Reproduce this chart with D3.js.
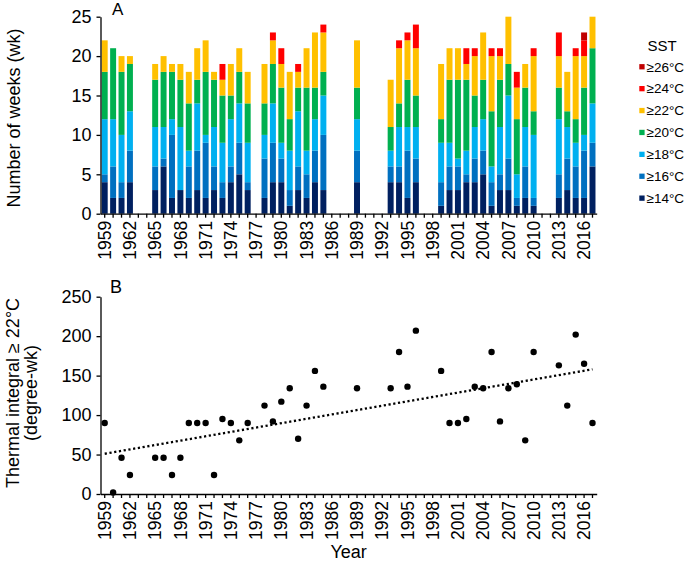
<!DOCTYPE html>
<html>
<head>
<meta charset="utf-8">
<script src="https://cdn.jsdelivr.net/npm/d3@7"></script>
<style>
  body { margin: 0; background: #fff; }
  text { font-family: "Liberation Sans", Arial, Helvetica, sans-serif; }
</style>
</head>
<body>
<svg id="chart" width="685" height="563"></svg>
<script>
// years that have data (gaps = no survey)
var dataYears = [1959,1960,1961,1962, 1965,1966,1967,1968,1969,1970,1971,1972,1973,1974,1975,1976,
  1978,1979,1980,1981,1982,1983,1984,1985, 1989, 1993,1994,1995,1996,
  1999,2000,2001,2002,2003,2004,2005,2006,2007,2008,2009,2010, 2013,2014,2015,2016,2017];

// weeks in each SST band (stacked, bottom to top)
var w14 = [4,2,2,4, 3,6,2,3,2,3,2,3,2,4,5,3, 2,4,4,1,3,2,4,3, 4, 4,4,2,4, 1,3,3,4,4,5,1,3,3,1,2,1, 2,3,2,2,6];
var w16 = [1,4,2,4, 3,1,8,0,4,5,7,3,2,2,4,1, 5,5,3,2,3,3,4,7, 4, 2,2,6,3, 3,3,3,1,3,3,3,2,4,1,4,1, 3,4,4,6,3];
var w18 = [7,6,6,5, 5,4,2,8,2,6,1,5,5,6,5,5, 3,5,2,5,7,3,4,5, 4, 2,5,3,4, 5,3,1,3,4,4,2,6,8,3,5,8, 7,4,3,2,5];
var w20 = [6,9,8,6, 6,7,6,6,6,3,8,6,6,3,4,5, 4,5,7,4,3,8,4,3, 4, 3,3,6,4, 3,8,10,9,4,5,7,6,4,7,5,3, 4,2,3,6,7];
var w22 = [4,0,2,1, 2,2,1,2,4,4,4,1,2,4,3,4, 5,3,3,6,2,5,7,5, 6, 6,7,5,6, 7,4,4,2,5,6,7,3,6,4,3,7, 4,5,8,4,4];
var w24 = [0,0,0,0, 0,0,0,0,0,0,0,0,2,0,0,0, 0,1,2,0,1,0,0,1, 0, 0,1,1,3, 0,0,0,2,1,0,1,1,0,2,0,1, 3,0,1,2,0];
var w26 = [0,0,0,0, 0,0,0,0,0,0,0,0,0,0,0,0, 0,0,0,0,0,0,0,0, 0, 0,0,0,0, 0,0,0,0,0,0,0,0,0,0,0,0, 0,0,0,1,0];

// panel B: thermal integral >= 22C (degree-wk)
var thermal = [90,2,46,24, 46,46,24,46,90,90,90,24,95,90,68,90, 112,92,117,134,70,112,156,136, 134,
  134,180,136,207, 156,90,90,95,136,134,180,92,134,139,68,180, 163,112,202,165,90];
var trendEnds = [51, 158]; // dotted trend line at 1959 and 2017

var seriesKeys = ["14", "16", "18", "20", "22", "24", "26"];
var seriesVals = [w14, w16, w18, w20, w22, w24, w26];
var seriesNames = ["≥14°C", "≥16°C", "≥18°C", "≥20°C", "≥22°C", "≥24°C", "≥26°C"];
var colors = ["#002060", "#0070C0", "#00B0F0", "#00B050", "#FFC000", "#FF0000", "#C00000"];
var weekTicks = [0, 5, 10, 15, 20, 25];
var thermalTicks = [0, 50, 100, 150, 200, 250];

var svg = d3.select("#chart");
var allYears = d3.range(1959, 2018);

var x = d3.scaleBand().domain(allYears).range([100.5, 596.7]).paddingInner(0.29).paddingOuter(0.145);
var yA = d3.scaleLinear().domain([0, 25]).range([213.7, 16.7]);
var yB = d3.scaleLinear().domain([0, 250]).range([494, 296.7]);

// table for the stack
var rows = dataYears.map(function (yr, i) {
	var r = { year: yr };
	seriesKeys.forEach(function (k, j) { r[k] = seriesVals[j][i]; });
	return r;
});
var stacked = d3.stack().keys(seriesKeys)(rows);

// ---------- panel A ----------
var gA = svg.append("g");
gA.selectAll("g.layer").data(stacked).enter().append("g")
	.attr("class", "layer")
	.attr("fill", function (d, i) { return colors[i]; })
	.selectAll("rect").data(function (d) { return d; }).enter().append("rect")
	.filter(function (d) { return d[1] > d[0]; })
	.attr("x", function (d) { return x(d.data.year); })
	.attr("width", x.bandwidth())
	.attr("y", function (d) { return yA(d[1]); })
	.attr("height", function (d) { return yA(d[0]) - yA(d[1]); });

function styleAxis(g, size) {
	g.selectAll("path, line").attr("stroke", "#000").attr("stroke-width", 1.3);
	g.selectAll("text").attr("font-size", size).attr("fill", "#000")
		.style("font-family", "'Liberation Sans', Arial, sans-serif");
}

function yearAxis(g) {
	g.call(d3.axisBottom(x).tickSize(4).tickSizeOuter(0)
		.tickFormat(function (d) { return (d - 1959) % 3 === 0 ? d : ""; }));
	g.selectAll("text")
		.attr("transform", "rotate(-90)")
		.attr("text-anchor", "end")
		.attr("x", -7).attr("y", 0).attr("dy", "0.35em");
	styleAxis(g, 17.5);
}

var axA = gA.append("g").attr("transform", "translate(0," + yA(0) + ")");
yearAxis(axA);

var ayA = gA.append("g").attr("transform", "translate(100.5,0)")
	.call(d3.axisLeft(yA).tickValues(weekTicks).tickSize(4).tickSizeOuter(0).tickPadding(5));
styleAxis(ayA, 18);

gA.append("text").attr("x", 112).attr("y", 15).attr("font-size", 17).text("A");
gA.append("text")
	.attr("transform", "translate(20,118) rotate(-90)")
	.attr("text-anchor", "middle").attr("font-size", 18)
	.text("Number of weeks (wk)");

// legend
var leg = svg.append("g");
leg.append("text").attr("x", 662).attr("y", 50.5).attr("text-anchor", "middle")
	.attr("font-size", 15).text("SST");
var legOrder = [6, 5, 4, 3, 2, 1, 0];
legOrder.forEach(function (si, k) {
	var cy = 66.7 + k * 21.9;
	leg.append("rect").attr("x", 639.3).attr("y", cy - 2.6).attr("width", 5.3).attr("height", 5.3)
		.attr("fill", colors[si]);
	leg.append("text").attr("x", 646.5).attr("y", cy).attr("dy", "0.36em")
		.attr("font-size", 13.5).text(seriesNames[si]);
});

// ---------- panel B ----------
var gB = svg.append("g");
var axB = gB.append("g").attr("transform", "translate(0," + yB(0) + ")");
yearAxis(axB);

var ayB = gB.append("g").attr("transform", "translate(100.5,0)")
	.call(d3.axisLeft(yB).tickValues(thermalTicks).tickSize(4).tickSizeOuter(0).tickPadding(5));
styleAxis(ayB, 18);

var cx = function (yr) { return x(yr) + x.bandwidth() / 2; };

gB.append("line")
	.attr("x1", cx(1959)).attr("y1", yB(trendEnds[0]))
	.attr("x2", cx(2017)).attr("y2", yB(trendEnds[1]))
	.attr("stroke", "#000").attr("stroke-width", 2.3)
	.attr("stroke-dasharray", "2.2,2.6");

gB.selectAll("circle").data(dataYears).enter().append("circle")
	.attr("cx", function (d) { return cx(d); })
	.attr("cy", function (d, i) { return yB(thermal[i]); })
	.attr("r", 3.2).attr("fill", "#000");

gB.append("text").attr("x", 110).attr("y", 293).attr("font-size", 18).text("B");
gB.append("text")
	.attr("transform", "translate(13,393) rotate(-90)")
	.attr("text-anchor", "middle").attr("dy", "0.35em").attr("font-size", 18)
	.text("Thermal integral ≥ 22°C");
gB.append("text")
	.attr("transform", "translate(31,393) rotate(-90)")
	.attr("text-anchor", "middle").attr("dy", "0.35em").attr("font-size", 18)
	.text("(degree-wk)");
gB.append("text").attr("x", 348.6).attr("y", 558).attr("text-anchor", "middle")
	.attr("font-size", 18).text("Year");
</script>
</body>
</html>
